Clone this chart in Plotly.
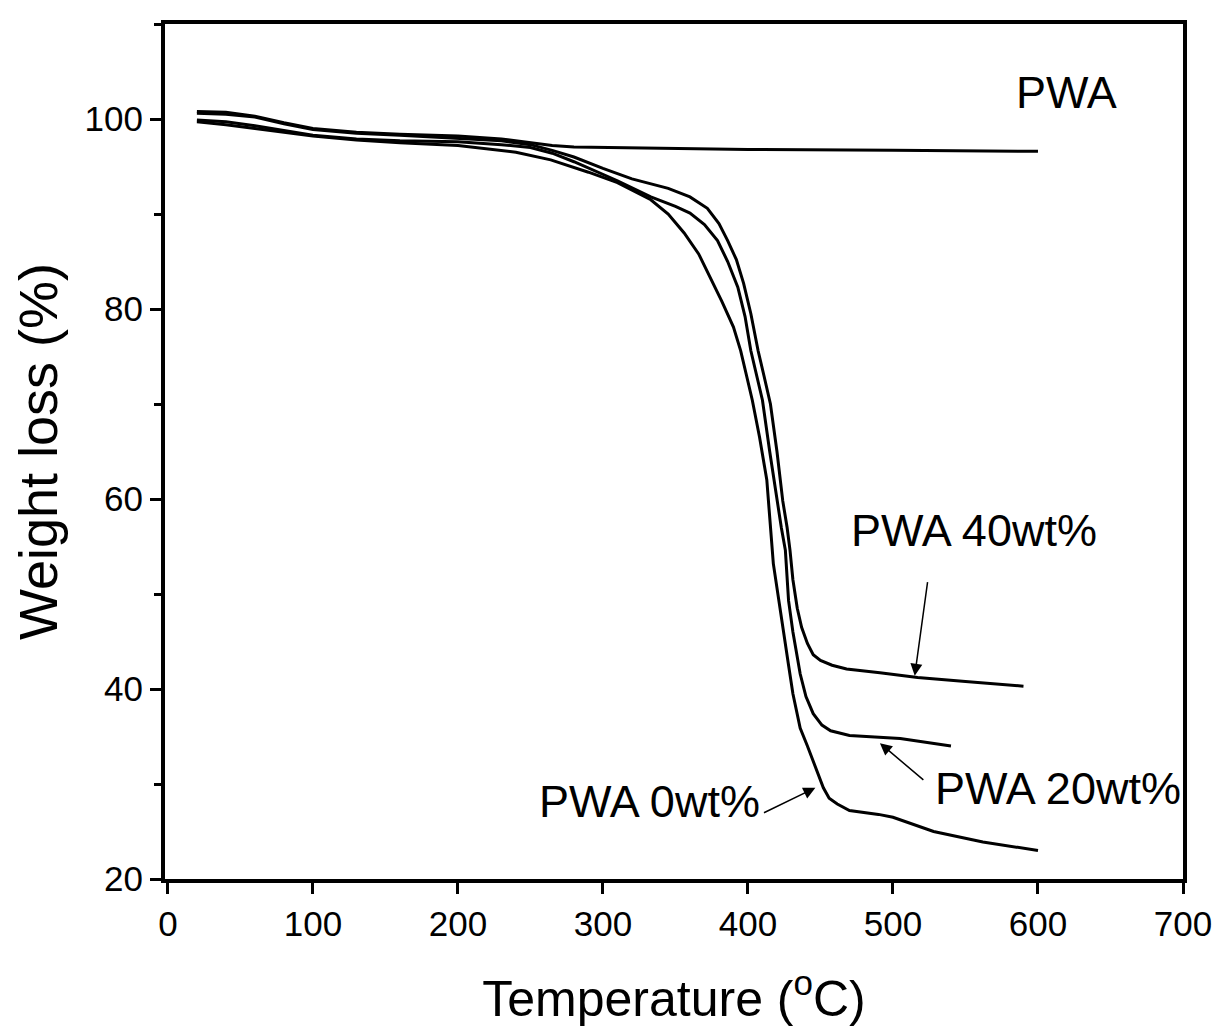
import plotly.graph_objects as go

# ---- data ----
t_pure = [20, 40, 60, 80, 100, 130, 160, 200, 230, 250, 265, 280, 300, 400, 500, 600]
w_pure = [100.8, 100.7, 100.3, 99.6, 99.0, 98.6, 98.4, 98.2, 97.9, 97.5, 97.2, 97.05, 97.0, 96.8, 96.7, 96.6]

t_40 = [20, 40, 60, 80, 100, 130, 160, 200, 230, 250, 265, 280, 300, 320, 345, 360, 372, 380, 386,
        392, 397, 402, 407, 411, 415.5, 420, 424, 427, 429, 431, 434, 437, 441, 445, 450, 458, 468,
        491, 517, 550, 590]
w_40 = [100.6, 100.5, 100.2, 99.5, 98.9, 98.5, 98.3, 98.0, 97.7, 97.3, 96.7, 96.0, 94.8, 93.7, 92.7,
        91.8, 90.6, 89.0, 87.2, 85.2, 82.7, 79.5, 75.6, 73.0, 70.0, 65.0, 59.8, 57.0, 54.6, 51.5,
        48.5, 46.5, 44.8, 43.6, 43.0, 42.5, 42.1, 41.7, 41.2, 40.8, 40.3]

t_20 = [20, 40, 60, 80, 100, 130, 160, 200, 230, 250, 265, 280, 310, 333, 350, 360, 370, 379, 386,
        393, 398, 402, 406, 410, 415, 420, 423, 425.8, 428, 431, 434, 436, 440, 445, 451, 457, 470,
        491, 505, 540]
w_20 = [99.9, 99.7, 99.3, 98.8, 98.3, 97.9, 97.7, 97.6, 97.3, 97.0, 96.4, 95.5, 93.5, 91.8, 90.8,
        90.1, 88.9, 87.2, 85.0, 82.3, 79.2, 75.6, 73.0, 70.4, 65.0, 59.8, 57.0, 54.6, 49.3, 46.0,
        43.2, 41.6, 39.2, 37.4, 36.2, 35.6, 35.1, 34.9, 34.8, 34.0]

t_0 = [20, 40, 60, 80, 100, 130, 160, 200, 240, 264, 290, 310, 333, 345, 356, 366, 374, 382, 390,
       395, 399, 403, 408, 413, 417.5, 421, 424.5, 428, 431, 436, 441, 445, 449, 452, 456, 461.6,
       470, 490, 500, 528, 562, 600]
w_0 = [99.7, 99.4, 99.0, 98.6, 98.2, 97.8, 97.5, 97.2, 96.5, 95.7, 94.4, 93.3, 91.5, 90.0, 88.0,
       85.8, 83.3, 80.8, 78.1, 75.6, 73.0, 70.4, 66.5, 62.0, 53.2, 49.5, 46.1, 42.5, 39.5, 35.9,
       34.0, 32.4, 30.8, 29.6, 28.5, 27.9, 27.2, 26.8, 26.5, 25.0, 23.9, 23.0]

x_ticks = [0, 100, 200, 300, 400, 500, 600, 700]
y_ticks = [20, 40, 60, 80, 100]

FONT = "Liberation Sans, Arial, sans-serif"

fig = go.Figure()
for t, w in [(t_pure, w_pure), (t_40, w_40), (t_20, w_20), (t_0, w_0)]:
    fig.add_trace(go.Scatter(x=t, y=w, mode="lines", line=dict(color="black", width=3),
                             showlegend=False, hoverinfo="skip"))

ann_font = dict(family=FONT, size=45, color="black")
fig.add_annotation(x=620, y=102.8, text="PWA", showarrow=False, font=ann_font, xref="x", yref="y")
fig.add_annotation(x=556, y=56.7, text="PWA 40wt%", showarrow=False, font=ann_font, xref="x", yref="y")
fig.add_annotation(x=614, y=29.5, text="PWA 20wt%", showarrow=False, font=ann_font, xref="x", yref="y")
fig.add_annotation(x=332, y=28.2, text="PWA 0wt%", showarrow=False, font=ann_font, xref="x", yref="y")

# arrows
arrow_kw = dict(showarrow=True, text="", arrowhead=2, arrowsize=1.6, arrowwidth=1.5, arrowcolor="black",
                xref="x", yref="y", axref="x", ayref="y")
fig.add_annotation(x=515, y=41.4, ax=524, ay=51.4, **arrow_kw)
fig.add_annotation(x=491, y=34.3, ax=522, ay=30.3, **arrow_kw)
fig.add_annotation(x=446.5, y=29.6, ax=410, ay=26.9, **arrow_kw)

fig.update_layout(
    width=1224, height=1028,
    margin=dict(l=157, r=49, t=16, b=157),
    paper_bgcolor="white", plot_bgcolor="white",
    font=dict(family=FONT, color="black"),
    xaxis=dict(range=[-2, 700], tickvals=x_ticks, ticks="outside", ticklen=11, tickwidth=3,
               tickcolor="black", showline=True, linewidth=4, linecolor="black", mirror=True,
               showgrid=False, zeroline=False, tickfont=dict(size=35), automargin=False,
               title=dict(text="Temperature (<sup>o</sup>C)", font=dict(size=50), standoff=40)),
    yaxis=dict(range=[20, 110], tickvals=y_ticks, ticks="outside", ticklen=11, tickwidth=3,
               tickcolor="black", showline=True, linewidth=4, linecolor="black", mirror=True,
               showgrid=False, zeroline=False, tickfont=dict(size=35), automargin=False,
               minor=dict(dtick=10, tick0=0, ticks="outside", ticklen=7, tickwidth=3, tickcolor="black"),
               title=dict(text="Weight loss (%)", font=dict(size=54), standoff=20)),
)

fig.write_html("out.html")
